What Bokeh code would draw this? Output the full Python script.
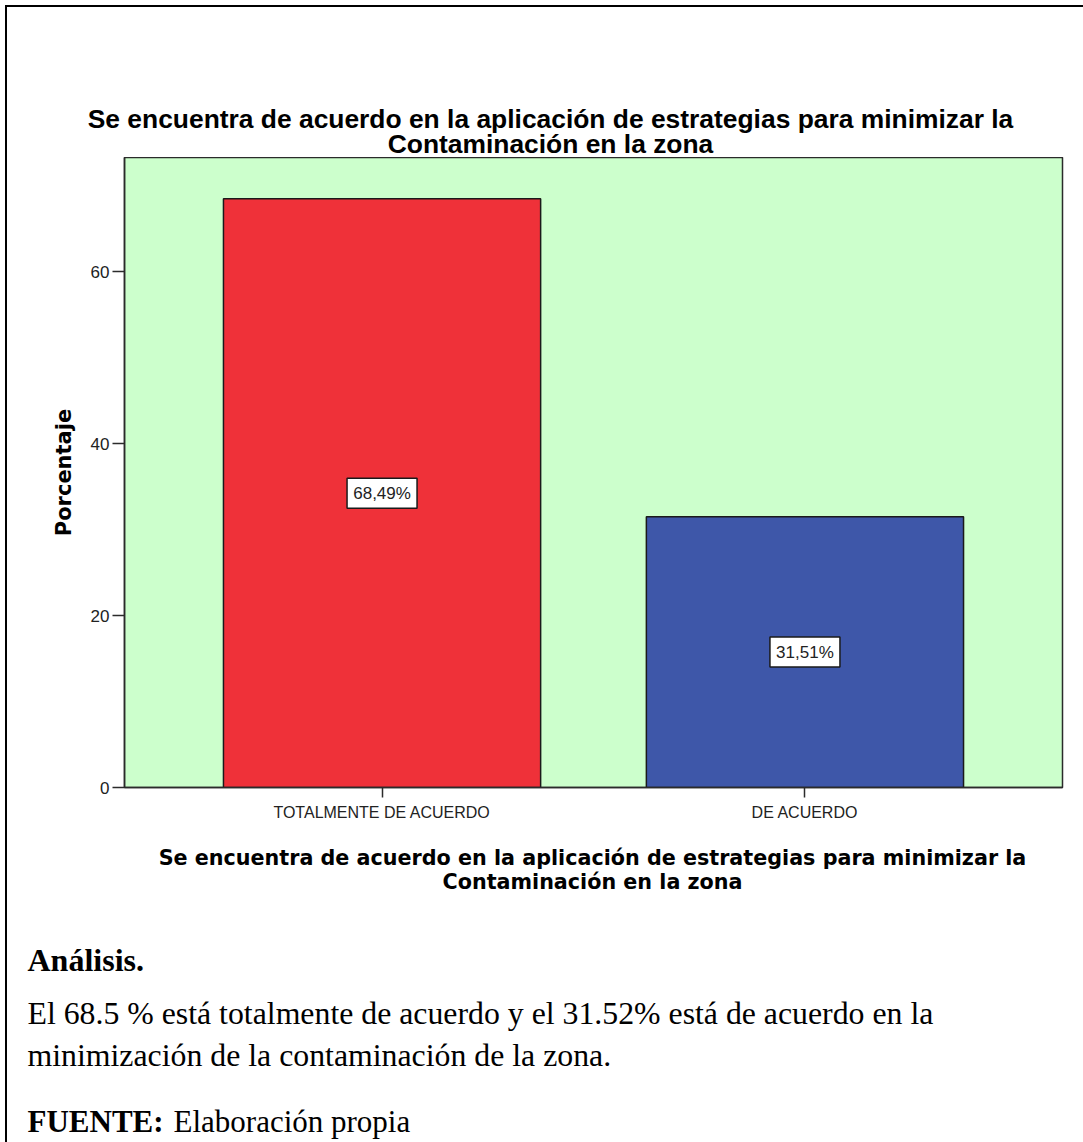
from bokeh.plotting import figure
from bokeh.layouts import column
from bokeh.models import FactorRange, Range1d, FixedTicker, ColumnDataSource
from bokeh.embed import file_html
from bokeh.resources import INLINE
from bokeh.core.properties import value

# ---------------- data ----------------
categories = ["TOTALMENTE DE ACUERDO", "DE ACUERDO"]
percentages = [68.49, 31.51]
y_ticks = [0, 20, 40, 60]
title_lines = [
    "Se encuentra de acuerdo en la aplicación de estrategias para minimizar la",
    "Contaminación en la zona",
]
x_title_lines = [
    "Se encuentra de acuerdo en la aplicación de estrategias para minimizar la",
    "Contaminación en la zona",
]
y_title = "Porcentaje"
analysis_heading = "Análisis."
analysis_lines = [
    "El 68.5 % está totalmente de acuerdo y el 31.52% está de acuerdo en la",
    "minimización de la contaminación de la zona.",
]
source_head = "FUENTE:"
source_text = "Elaboración propia"

# ---------------- styles / layout ----------------
bar_colors = ["#EF3139", "#3E57A9"]
W = 1083
TOP_H = 157          # title strip (page y 0..157)
CHART_H = 673        # chart strip (page y 157..830)
BOT_H = 312          # x title + analysis strip (page y 830..1142)
FL, FT, FR, FB = 124, 157, 1062, 787   # frame edges in page pixels
X_PAD = 0.109
Y_MAX = 73.3


def text_strip(h):
    f = figure(width=W, height=h, x_range=Range1d(0, W), y_range=Range1d(h, 0),
               x_axis_type=None, y_axis_type=None, output_backend="svg",
               toolbar_location=None, min_border=0, frame_align=False)
    f.grid.visible = False
    f.outline_line_color = None
    f.border_fill_color = None
    f.background_fill_color = None
    return f


def put(f, y0, txt, x_px, y_base_px, font, size, bold=False, align="left"):
    f.text(x=[x_px], y=[y_base_px - y0], text=[txt], text_font=value(font),
           text_font_size=size, text_font_style="bold" if bold else "normal",
           text_align=align, text_baseline="alphabetic", text_color="black")


# ---- title strip ----
top = text_strip(TOP_H)
put(top, 0, title_lines[0], 550, 118, "Liberation Sans", "26.4px", True, "center")
put(top, 0, title_lines[1], 550, 143, "Liberation Sans", "26.4px", True, "center")

# ---- chart ----
src = ColumnDataSource(dict(
    cat=categories,
    pct=percentages,
    mid=[v / 2 for v in percentages],
    txt=[f"{v:.2f}".replace(".", ",") + "%" for v in percentages],
    color=bar_colors,
))

p = figure(
    width=W, height=CHART_H,
    x_range=FactorRange(factors=categories, range_padding=X_PAD),
    y_range=Range1d(0, Y_MAX),
    output_backend="svg", toolbar_location=None, frame_align=False,
    min_border_left=FL, min_border_right=W - FR,
    min_border_top=FT - TOP_H, min_border_bottom=TOP_H + CHART_H - FB,
)
p.border_fill_color = None
p.background_fill_color = "#CCFFCC"
p.outline_line_color = "#2b2b2b"
p.outline_line_width = 1.5
p.xgrid.visible = False
p.ygrid.visible = False

ya = p.yaxis[0]
ya.ticker = FixedTicker(ticks=y_ticks)
ya.major_tick_out = 12
ya.major_tick_in = 0
ya.minor_tick_out = 0
ya.minor_tick_in = 0
ya.major_label_standoff = 3
ya.major_label_text_font = "Liberation Sans"
ya.major_label_text_font_size = "17px"
ya.major_label_text_color = "#222222"
ya.axis_line_color = "#2b2b2b"
ya.axis_line_width = 1.5
ya.major_tick_line_color = "#2b2b2b"
ya.major_tick_line_width = 1.5
ya.axis_label = y_title
ya.axis_label_text_font = "DejaVu Sans"
ya.axis_label_text_font_style = "bold"
ya.axis_label_text_font_size = "21px"
ya.axis_label_text_color = "black"
ya.axis_label_standoff = 12

xa = p.xaxis[0]
xa.major_tick_out = 10
xa.major_tick_in = 0
xa.major_label_standoff = 6
xa.major_label_text_font = "Liberation Sans"
xa.major_label_text_font_size = "16px"
xa.major_label_text_color = "#222222"
xa.axis_line_color = "#2b2b2b"
xa.axis_line_width = 1.5
xa.major_tick_line_color = "#2b2b2b"
xa.major_tick_line_width = 1.5

p.vbar(x="cat", top="pct", width=0.75, source=src, fill_color="color",
       line_color="#1a1a1a", line_width=1.5)
p.rect(x="cat", y="mid", width=70, height=30, width_units="screen", height_units="screen",
       source=src, fill_color="white", line_color="#1a1a1a", line_width=1.5)
p.text(x="cat", y="mid", text="txt", source=src, text_align="center", text_baseline="middle",
       text_font=value("Liberation Sans"), text_font_size="17px", text_color="#222222")

# ---- x title + analysis strip ----
Y0 = TOP_H + CHART_H
bot = text_strip(BOT_H)
put(bot, Y0, x_title_lines[0], 592, 857, "DejaVu Sans", "20.7px", True, "center")
put(bot, Y0, x_title_lines[1], 592, 881, "DejaVu Sans", "20.7px", True, "center")
put(bot, Y0, analysis_heading, 27, 959, "Liberation Serif", "32px", True)
put(bot, Y0, analysis_lines[0], 27, 1013, "Liberation Serif", "31.8px")
put(bot, Y0, analysis_lines[1], 27, 1055, "Liberation Serif", "31.8px")
put(bot, Y0, source_head, 27, 1121, "Liberation Serif", "31px", True)
put(bot, Y0, source_text, 173, 1121, "Liberation Serif", "31px")

page = column(top, p, bot, spacing=0)
# page frame: a thin black line on the left and top edges
page.styles = {
    "background": "linear-gradient(#000,#000) 5px 5px / 2px calc(100% - 5px) no-repeat, "
                  "linear-gradient(#000,#000) 5px 5px / calc(100% - 5px) 2px no-repeat, #ffffff",
}

open("out.html", "w").write(file_html(page, INLINE))
